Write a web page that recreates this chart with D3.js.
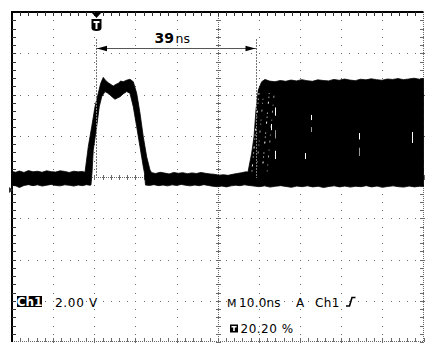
<!DOCTYPE html>
<html><head><meta charset="utf-8">
<script src="https://cdn.jsdelivr.net/npm/d3@7"></script>
<style>html,body{margin:0;padding:0;background:#fff;}svg{display:block;}</style>
</head><body>
<svg id="c" width="436" height="355"></svg>
<script>
// ---------------- data ----------------
const timeDomain = [-20.41, 79.59];   // ns, 10 divisions at 10 ns/div, trigger at 20.20 %
const voltDomain = [-7.37, 8.63];     // V, 8 divisions at 2 V/div, ground at 0 V
const hDivs = 10, vDivs = 8, minorPerDiv = 5;

// upper envelope of the (noisy) trace
const upperT = [-20.4,-19.5,-18.6,-17.5,-16.4,-15.3,-14.2,-13.1,-12.0,-10.9,-9.8,-8.7,-7.6,-6.5,-5.4,-4.3,-3.3,
  -2.67,-1.87,-1.04,-0.24,0.56,1.14,1.77,2.4,2.99,3.6,4.2,4.8,5.42,6.0,6.63,7.4,8.26,9.06,9.89,10.69,11.49,12.32,13.12,13.54,
  14.5,15.6,16.7,17.8,18.9,20.0,21.1,22.2,23.3,24.4,25.5,26.6,27.7,28.8,29.9,31.0,32.1,33.2,34.3,35.4,36.4,
  36.94,37.84,38.4,38.88,39.44,40.27,41.07,
  42.2,43.5,44.8,46.1,47.4,48.7,50.0,51.3,52.6,53.9,55.2,56.5,57.8,59.1,60.4,61.7,63.0,64.3,65.6,66.9,68.2,69.5,70.8,72.1,73.4,74.7,76.0,77.3,78.6,79.59];
const upperV = [0.90,0.86,0.92,0.85,0.94,0.88,0.91,0.86,0.93,0.89,0.87,0.93,0.90,0.85,0.91,0.88,0.90,
  0.86,2.10,3.07,4.04,4.69,5.17,5.46,5.30,5.20,5.12,5.04,5.12,5.17,5.28,5.25,5.32,5.37,5.25,4.69,3.73,2.58,1.61,0.97,0.84,
  0.80,0.86,0.82,0.78,0.85,0.81,0.84,0.79,0.83,0.80,0.85,0.81,0.78,0.76,0.72,0.74,0.71,0.76,0.80,0.84,0.88,
  0.87,1.79,2.58,3.88,4.85,5.25,5.36,
  5.28,5.25,5.31,5.27,5.33,5.29,5.35,5.30,5.27,5.34,5.31,5.29,5.36,5.32,5.38,5.33,5.30,5.37,5.34,5.39,5.35,5.32,5.38,5.36,5.40,5.35,5.38,5.42,5.37,5.40];

// lower envelope of the trace (inside of the pulse, bottom of the baseline)
const lowerT = [-20.4,-19.5,-18.6,-17.5,-16.4,-15.3,-14.2,-13.1,-12.0,-10.9,-9.8,-8.7,-7.6,-6.5,-5.4,-4.3,-3.3,-2.3,-1.5,
  -1.22,-0.97,-0.66,0.17,0.8,1.39,2.19,2.8,3.4,4.0,4.62,5.2,5.83,6.6,7.46,8.26,9.06,9.89,10.69,11.49,11.79,12.03,
  13.0,14.1,15.2,16.3,17.4,18.5,19.6,20.7,21.8,22.9,24.0,25.1,26.2,27.3,28.4,29.5,30.6,31.7,32.8,33.9,35.0,36.1,37.2,
  38.4,39.7,41.0,42.3,43.6,44.9,46.2,47.5,48.8,50.1,51.4,52.7,54.0,55.3,56.6,57.9,59.2,60.5,61.8,63.1,64.4,65.7,67.0,68.3,69.6,70.9,72.2,73.5,74.8,76.1,77.4,78.7,79.59];
const lowerV = [0.24,0.20,0.12,0.22,0.26,0.21,0.25,0.19,0.23,0.27,0.22,0.20,0.25,0.23,0.19,0.24,0.21,0.26,0.23,
  0.24,0.82,1.94,3.07,4.04,4.52,4.77,4.70,4.61,4.50,4.40,4.46,4.52,4.66,4.77,4.69,4.04,3.07,2.10,1.13,0.82,0.24,
  0.22,0.26,0.21,0.24,0.20,0.25,0.22,0.27,0.23,0.20,0.24,0.21,0.26,0.22,0.18,0.16,0.19,0.15,0.20,0.23,0.21,0.25,0.22,
  0.19,0.16,0.20,0.14,0.18,0.21,0.17,0.13,0.19,0.16,0.20,0.15,0.18,0.12,0.17,0.20,0.15,0.19,0.14,0.18,0.16,0.21,0.15,0.19,0.13,0.17,0.20,0.16,0.14,0.19,0.15,0.18,0.17];

// persistence gaps (speckles) in the jittered edges of the second signal
const gapEdgeStarts = [37.9, 39.0, 40.4, 41.6];
const gapEdgeRise = 1.7, gapLow = 0.9, gapHigh = 4.7;
// isolated drop-outs inside the persistence block [t, v1, v2]
const dropouts = [[52.2, 3.64, 3.39], [52.2, 3.05, 2.81], [50.8, 1.79, 1.50], [64.0, 2.76, 2.45], [64.0, 2.05, 1.65],
  [76.9, 2.81, 2.28], [43.5, 4.0, 3.6], [43.5, 2.9, 2.5], [43.5, 1.9, 1.5], [42.6, 3.2, 2.9]];

const cursorTimes = [0, 39];
const measureValue = "39", measureUnit = "ns";
const chLabel = "Ch1", voltsLabel = "2.00 V";
const timebaseLabel = ["M", "10.0ns", "A", "Ch1"];
const triggerPosLabel = "20.20 %";

// ---------------- drawing ----------------
(function(){
const svg = d3.select("#c");
svg.append("rect").attr("width",436).attr("height",355).attr("fill","#fff");

const L = 12, R = 423.5, T = 12, B = 342;
const x = d3.scaleLinear().domain(timeDomain).range([L, R]);
const y = d3.scaleLinear().domain(voltDomain).range([B, T]);
const gx = d3.scaleLinear().domain([0, hDivs]).range([L, R]);
const gy = d3.scaleLinear().domain([0, vDivs]).range([T, B]);

const grid = svg.append("g");
const gridCol = "#6a6a6a";
for (let i = 1; i < hDivs; i++) {
  if (i === hDivs/2) continue;
  for (let k = 0; k <= vDivs*minorPerDiv; k++) {
    grid.append("rect").attr("x", Math.round(gx(i))).attr("y", Math.round(gy(k/minorPerDiv)))
      .attr("width",1).attr("height",1).attr("fill",gridCol);
  }
}
for (let j = 1; j < vDivs; j++) {
  if (j === vDivs/2) continue;
  for (let k = 0; k <= hDivs*minorPerDiv; k++) {
    grid.append("rect").attr("x", Math.round(gx(k/minorPerDiv))).attr("y", Math.round(gy(j)))
      .attr("width",1).attr("height",1).attr("fill",gridCol);
  }
}
function hAxis(yy, tickUp, tickDown) {
  const yr = Math.round(yy);
  grid.append("line").attr("x1",L).attr("x2",R).attr("y1",yr+0.5).attr("y2",yr+0.5)
    .attr("stroke",gridCol).attr("stroke-dasharray","1,1");
  for (let k = 0; k <= hDivs*minorPerDiv; k++) {
    const xx = Math.round(gx(k/minorPerDiv)) + 0.5;
    grid.append("line").attr("x1",xx).attr("x2",xx).attr("y1",yr-tickUp).attr("y2",yr+1+tickDown)
      .attr("stroke",gridCol);
  }
}
function vAxis(xx, tickL, tickR) {
  const xr = Math.round(xx);
  grid.append("line").attr("y1",T).attr("y2",B).attr("x1",xr+0.5).attr("x2",xr+0.5)
    .attr("stroke",gridCol).attr("stroke-dasharray","1,1");
  for (let k = 0; k <= vDivs*minorPerDiv; k++) {
    const yy = Math.round(gy(k/minorPerDiv)) + 0.5;
    grid.append("line").attr("y1",yy).attr("y2",yy).attr("x1",xr-tickL).attr("x2",xr+1+tickR)
      .attr("stroke",gridCol);
  }
}
hAxis(gy(vDivs/2), 2, 2);
vAxis(gx(hDivs/2), 2, 2);
hAxis(gy(vDivs) - 1, 3, 0);
vAxis(gx(hDivs) - 1, 3, 0);
grid.append("rect").attr("x",L-1).attr("y",T-1).attr("width",R-L+1).attr("height",2).attr("fill","#000");
grid.append("rect").attr("x",L-1).attr("y",T-1).attr("width",2).attr("height",B-T+1).attr("fill","#000");
for (let k = 1; k < hDivs*minorPerDiv; k++) {
  const xx = Math.round(gx(k/minorPerDiv)) + 0.5;
  grid.append("line").attr("x1",xx).attr("x2",xx).attr("y1",T).attr("y2",T+4).attr("stroke","#333");
}
for (let k = 1; k < vDivs*minorPerDiv; k++) {
  const yy = Math.round(gy(k/minorPerDiv)) + 0.5;
  grid.append("line").attr("y1",yy).attr("y2",yy).attr("x1",L).attr("x2",L+4).attr("stroke","#333");
}

// ---------- waveform ----------
const upper = upperT.map((t,i)=>[t, upperV[i]]);
const lower = lowerT.map((t,i)=>[t, lowerV[i]]);
const line = d3.line().x(d=>x(d[0])).y(d=>y(d[1]));
svg.append("path").attr("d", line(upper.concat(lower.slice().reverse())) + "Z")
  .attr("fill","#000").attr("stroke","#000").attr("stroke-width",0.8).attr("stroke-linejoin","round");

const dashes = ["1,4,2,7,1,3", "2,6,1,3,1,8", "1,3,1,9,2,4", "1,7,2,5"];
gapEdgeStarts.forEach((t0,i)=>{
  svg.append("path").attr("d", line([[t0, gapLow],[t0+gapEdgeRise, gapHigh]]))
    .attr("stroke", i%2 ? "#aaa" : "#fff").attr("stroke-width",1)
    .attr("stroke-dasharray", dashes[i]).attr("stroke-dashoffset", i*3);
});
dropouts.forEach((d,i)=>{
  svg.append("line").attr("x1",Math.round(x(d[0]))+0.5).attr("x2",Math.round(x(d[0]))+0.5)
    .attr("y1",y(d[1])).attr("y2",y(d[2])).attr("stroke", i%3===1 ? "#999" : "#fff").attr("stroke-width",1);
});

// ---------- cursors & measurement ----------
cursorTimes.forEach(t=>{
  const xx = Math.round(x(t)) + 0.5;
  svg.append("line").attr("x1",xx).attr("x2",xx).attr("y1",39).attr("y2",178)
    .attr("stroke","#777").attr("stroke-dasharray","2,1");
});
const ay = 48.5;
const xa = x(cursorTimes[0]), xb = x(cursorTimes[1]);
svg.append("line").attr("x1",xa).attr("x2",xb).attr("y1",ay).attr("y2",ay).attr("stroke","#555");
svg.append("path").attr("d",`M${xa+1},${ay} L${xa+11},${ay-2.8} L${xa+11},${ay+2.8} Z`).attr("fill","#000");
svg.append("path").attr("d",`M${xb-1},${ay} L${xb-11},${ay-2.8} L${xb-11},${ay+2.8} Z`).attr("fill","#000");
const mt = svg.append("text").attr("x",(xa+xb)/2 - 4).attr("y",42.5).attr("text-anchor","middle")
  .attr("font-family","DejaVu Sans, sans-serif").attr("fill","#000");
mt.append("tspan").attr("font-size",14).attr("font-weight","bold").text(measureValue);
mt.append("tspan").attr("font-size",12.5).attr("dx",1.5).text(measureUnit);

const tx = Math.round(x(0)) + 0.5;
svg.append("path").attr("d",`M${tx-4.5},${T+1} L${tx+4.5},${T+1} L${tx},${T+6} Z`).attr("fill","#000");
svg.append("path").attr("d",`M${tx-5},19 L${tx+5},19 L${tx+5},28 Q${tx+5},31 ${tx},31 Q${tx-5},31 ${tx-5},28 Z`).attr("fill","#000");
svg.append("rect").attr("x",tx-3).attr("y",21).attr("width",6).attr("height",2).attr("fill","#fff");
svg.append("rect").attr("x",tx-1).attr("y",21).attr("width",2).attr("height",8).attr("fill","#fff");

const gyy = y(0);
svg.append("path").attr("d",`M${L-3},${gyy-3} L${L+1},${gyy} L${L-3},${gyy+3} Z`).attr("fill","#333");

// ---------- readouts ----------
const font = "DejaVu Sans, sans-serif";
svg.append("rect").attr("x",17).attr("y",296).attr("width",25).attr("height",11).attr("fill","#000");
svg.append("text").attr("x",29.5).attr("y",306).attr("text-anchor","middle").attr("font-family",font)
  .attr("font-size",12).attr("font-weight","bold").attr("fill","#fff").text(chLabel);
svg.append("text").attr("x",55).attr("y",306.5).attr("font-family",font).attr("font-size",12)
  .attr("letter-spacing",0.7).attr("fill","#000").text(voltsLabel);
const tbX = [227, 239, 296, 315];
const tbLS = [0, 0.2, 0, 0.4];
timebaseLabel.forEach((s,i)=>{
  svg.append("text").attr("x",tbX[i]).attr("y",306.5).attr("font-family",font).attr("font-size", i===0 ? 11 : 12)
    .attr("letter-spacing",tbLS[i]).attr("fill","#000").text(s);
});
svg.append("path").attr("d","M346,306 L349.5,306 L352,297.5 L355.5,297.5").attr("fill","none")
  .attr("stroke","#000").attr("stroke-width",1.6);
svg.append("rect").attr("x",230).attr("y",324.5).attr("width",8).attr("height",8).attr("fill","#000");
svg.append("rect").attr("x",231.5).attr("y",326).attr("width",5).attr("height",1.5).attr("fill","#fff");
svg.append("rect").attr("x",233.2).attr("y",326).attr("width",1.6).attr("height",5).attr("fill","#fff");
svg.append("text").attr("x",240.5).attr("y",333).attr("font-family",font).attr("font-size",12)
  .attr("letter-spacing",0.5).attr("fill","#000").text(triggerPosLabel);
})();
</script>
</body></html>
